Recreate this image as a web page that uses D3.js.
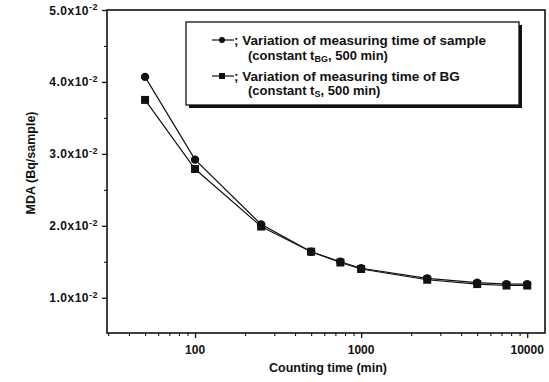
<!DOCTYPE html>
<html><head><meta charset="utf-8">
<script src="https://cdn.jsdelivr.net/npm/d3@7"></script>
<style>body{margin:0;background:#fff}svg{display:block}text{font-family:"Liberation Sans",Arial,sans-serif;fill:#111}</style>
</head><body><svg id="c" width="549" height="382"></svg>
<script>
const times = [50, 100, 250, 500, 750, 1000, 2500, 5000, 7500, 10000];
const sampleVar = [0.0407, 0.0292, 0.0202, 0.0164, 0.0150, 0.0141, 0.0127, 0.0121, 0.0119, 0.0119];
const bgVar     = [0.0375, 0.0279, 0.0199, 0.0164, 0.0149, 0.0140, 0.0125, 0.0119, 0.0117, 0.0117];
const yTicks = [0.01, 0.02, 0.03, 0.04, 0.05];
const yTickMant = ["1.0", "2.0", "3.0", "4.0", "5.0"];
const xTicks = [100, 1000, 10000];
const legendLines = [
  ["; Variation of measuring time of sample", "(constant t", "BG", ", 500 min)"],
  ["; Variation of measuring time of BG", "(constant t", "S", ", 500 min)"]
];

const svg = d3.select("#c");
const L = 107, R = 545, T = 10, B = 333;
const x = d3.scaleLog().domain([29.5, 12800]).range([L, R]);
const y = d3.scaleLinear().domain([0.0051, 0.05]).range([B, T]);

// frame
svg.append("rect").attr("x", L).attr("y", T).attr("width", R - L).attr("height", B - T)
  .attr("fill", "none").attr("stroke", "#111").attr("stroke-width", 1.6);

// y axis
const yAx = svg.append("g").attr("transform", `translate(${L},0)`)
  .call(d3.axisLeft(y).tickValues(yTicks).tickSize(5).tickFormat(""));
yAx.select(".domain").remove();
yAx.selectAll("line").attr("stroke", "#111").attr("stroke-width", 1.3);
const yMinor = yTicks.map(v => v - 0.005).filter(v => v > 0.0051);
svg.append("g").attr("transform", `translate(${L},0)`)
  .call(d3.axisLeft(y).tickValues(yMinor).tickSize(3).tickFormat(""))
  .call(g => g.select(".domain").remove())
  .selectAll("line").attr("stroke", "#111").attr("stroke-width", 1.1);
yTicks.forEach((v, i) => {
  const t = svg.append("text").attr("x", L - 9).attr("y", y(v) + 4.5)
    .attr("text-anchor", "end").attr("font-size", 12).attr("font-weight", "bold")
    .attr("letter-spacing", 0.5);
  t.append("tspan").text(yTickMant[i] + "x10");
  t.append("tspan").attr("dy", -4.5).attr("font-size", 9).text("-2");
});

// x axis
const minor = [];
[10, 100, 1000].forEach(d => { for (let k = 2; k <= 9; k++) { const v = d * k; if (v >= 29.5 && v <= 12800) minor.push(v); } });
svg.append("g").attr("transform", `translate(0,${B})`)
  .call(d3.axisBottom(x).tickValues(xTicks).tickSize(5).tickFormat(""))
  .call(g => g.select(".domain").remove())
  .selectAll("line").attr("stroke", "#111").attr("stroke-width", 1.3);
svg.append("g").attr("transform", `translate(0,${B})`)
  .call(d3.axisBottom(x).tickValues(minor).tickSize(3).tickFormat(""))
  .call(g => g.select(".domain").remove())
  .selectAll("line").attr("stroke", "#111").attr("stroke-width", 1.1);
xTicks.forEach(v => {
  svg.append("text").attr("x", x(v)).attr("y", B + 21).attr("text-anchor", "middle")
    .attr("font-size", 12).attr("font-weight", "bold").text(d3.format("d")(v));
});

// axis titles
svg.append("text").attr("x", 328).attr("y", 372).attr("text-anchor", "middle")
  .attr("font-size", 12.5).attr("font-weight", "bold").text("Counting time (min)");
svg.append("text").attr("transform", `translate(35,163) rotate(-90)`)
  .attr("text-anchor", "middle").attr("font-size", 12.5).attr("font-weight", "bold").text("MDA (Bq/sample)");

// series
const line = d3.line().x(d => x(d[0])).y(d => y(d[1]));
const s1 = times.map((t, i) => [t, sampleVar[i]]);
const s2 = times.map((t, i) => [t, bgVar[i]]);
[s1, s2].forEach(s => svg.append("path").datum(s).attr("d", line)
  .attr("fill", "none").attr("stroke", "#111").attr("stroke-width", 1.2));
svg.append("g").selectAll("circle").data(s1).join("circle")
  .attr("cx", d => x(d[0])).attr("cy", d => y(d[1])).attr("r", 4.2).attr("fill", "#111");
svg.append("g").selectAll("rect").data(s2).join("rect")
  .attr("x", d => x(d[0]) - 4).attr("y", d => y(d[1]) - 4).attr("width", 8).attr("height", 8).attr("fill", "#111");

// legend
const lx = 186, ly = 22, lw = 333, lh = 83;
svg.append("rect").attr("x", lx + 3).attr("y", ly + 3).attr("width", lw).attr("height", lh).attr("fill", "#111");
svg.append("rect").attr("x", lx).attr("y", ly).attr("width", lw).attr("height", lh)
  .attr("fill", "#fff").attr("stroke", "#111").attr("stroke-width", 1.3);
const rowsY = [40, 76];
legendLines.forEach((ln, i) => {
  const cy = rowsY[i];
  svg.append("line").attr("x1", 212).attr("x2", 234).attr("y1", cy).attr("y2", cy)
    .attr("stroke", "#111").attr("stroke-width", 1.2);
  if (i === 0) svg.append("circle").attr("cx", 222).attr("cy", cy).attr("r", 3).attr("fill", "#111");
  else svg.append("rect").attr("x", 219).attr("y", cy - 3).attr("width", 6).attr("height", 6).attr("fill", "#111");
  svg.append("text").attr("x", 234).attr("y", cy + 5).attr("font-size", 13.5).attr("font-weight", "bold").text(ln[0]);
  const t = svg.append("text").attr("x", 248).attr("y", cy + (i === 0 ? 20 : 19)).attr("font-size", 13).attr("font-weight", "bold");
  t.append("tspan").text(ln[1]);
  t.append("tspan").attr("dy", 2).attr("font-size", 9).text(ln[2]);
  t.append("tspan").attr("dy", -2).text(ln[3]);
});
</script></body></html>
